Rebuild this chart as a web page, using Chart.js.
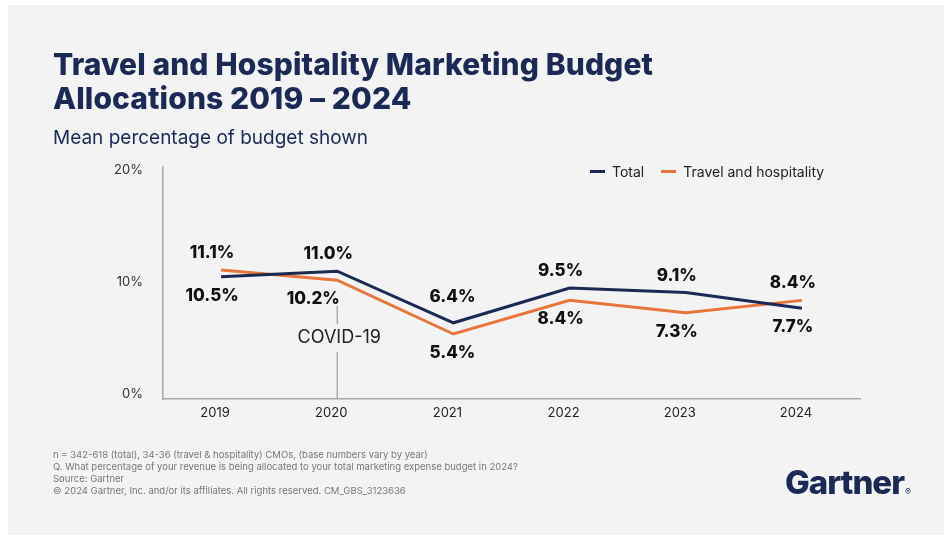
<!DOCTYPE html>
<html>
<head>
<meta charset="utf-8">
<title>Travel and Hospitality Marketing Budget Allocations 2019 – 2024</title>
<script src="https://cdn.jsdelivr.net/npm/chart.js@4"></script>
<style>
  html, body { margin: 0; padding: 0; background: #fff; }
  body { width: 944px; height: 536px; position: relative; overflow: hidden; font-family: Inter, "Noto Sans", sans-serif; }
  .card { position: absolute; left: 8px; top: 5px; width: 936px; height: 530px; background: #f3f3f3; }
  #chart { position: absolute; left: 0; top: 0; }
  .title { position: absolute; left: 53px; top: 47px; margin: 0; font-size: 30px; line-height: 34px; font-weight: 800; color: #1b2a55; letter-spacing: 0.1px; }
  .subtitle { position: absolute; left: 53px; top: 126px; margin: 0; font-size: 19px; color: #1b2a55; font-weight: 400; }
  .legend { position: absolute; left: 590px; top: 163px; font-size: 14px; color: #222; display: flex; align-items: center; }
  .legend span.sw { display: inline-block; width: 15px; height: 3px; margin-right: 7px; }
  .legend span.item { display: flex; align-items: center; margin-right: 17px; }
  .notes { position: absolute; left: 53px; top: 449px; font-size: 9.5px; line-height: 12px; color: #777; }
  .logo { position: absolute; left: 785px; top: 462px; font-size: 33px; font-weight: 800; color: #1b2a55; letter-spacing: -1px; }
  .logo sup { font-size: 9px; font-weight: 400; letter-spacing: 0; vertical-align: -1px; margin-left: 1px; }
</style>
</head>
<body>
<div class="card"></div>
<canvas id="chart" width="944" height="536"></canvas>
<h1 class="title">Travel and Hospitality Marketing Budget<br>Allocations 2019 – 2024</h1>
<p class="subtitle">Mean percentage of budget shown</p>
<div class="legend">
  <span class="item"><span class="sw" style="background:#1b2a55"></span>Total</span>
  <span class="item"><span class="sw" style="background:#e8763c"></span>Travel and hospitality</span>
</div>
<div class="notes">
  n = 342-618 (total), 34-36 (travel &amp; hospitality) CMOs, (base numbers vary by year)<br>
  Q. What percentage of your revenue is being allocated to your total marketing expense budget in 2024?<br>
  Source: Gartner<br>
  © 2024 Gartner, Inc. and/or its affiliates. All rights reserved. CM_GBS_3123636
</div>
<div class="logo">Gartner<sup>®</sup></div>

<script>
const years = ["2019", "2020", "2021", "2022", "2023", "2024"];
const total = [10.5, 11.0, 6.4, 9.5, 9.1, 7.7];
const travel = [11.1, 10.2, 5.4, 8.4, 7.3, 8.4];
const yTicks = [0, 10, 20];
const covidYear = "2020";

const navy = "#1b2a55";
const orange = "#e8763c";
const axisGray = "#a8a8a8";

// value labels: higher series above its line, lower series below
const valueLabels = {
  id: "valueLabels",
  afterDatasetsDraw(chart) {
    const ctx = chart.ctx;
    const metaA = chart.getDatasetMeta(0);
    const metaB = chart.getDatasetMeta(1);
    ctx.save();
    ctx.font = "800 17px Inter, 'Noto Sans', sans-serif";
    ctx.fillStyle = "#111";
    ctx.textAlign = "center";
    ctx.textBaseline = "middle";
    years.forEach((yr, i) => {
      const a = total[i], b = travel[i];
      const hiSeries = a >= b ? total : travel;
      const hiMeta = a >= b ? metaA : metaB;
      const loMeta = a >= b ? metaB : metaA;
      const hiVal = Math.max(a, b), loVal = Math.min(a, b);
      const hp = hiMeta.data[i], lp = loMeta.data[i];
      // a dip in the upper line: lift the label clear of both slopes
      const valley = i > 0 && i < years.length - 1 &&
        hiSeries[i - 1] > hiVal && hiSeries[i + 1] > hiVal;
      ctx.fillText(hiVal.toFixed(1) + "%", hp.x - (valley ? 1 : 9), hp.y - (valley ? 26 : 17));
      // keep the lower label clear of the COVID marker line
      const shift = yr === covidYear ? -24 : (valley ? -1 : -9);
      ctx.fillText(loVal.toFixed(1) + "%", lp.x + shift, lp.y + 19);
    });
    ctx.restore();
  }
};

// vertical COVID-19 marker at 2020
const covidMarker = {
  id: "covidMarker",
  beforeDatasetsDraw(chart) {
    const ctx = chart.ctx;
    const x = chart.scales.x.getPixelForValue(years.indexOf(covidYear));
    const bottom = chart.chartArea.bottom;
    const textY = 338;
    ctx.save();
    ctx.strokeStyle = "#9a9a9a";
    ctx.lineWidth = 1.2;
    ctx.beginPath();
    ctx.moveTo(x, 306);
    ctx.lineTo(x, textY - 14);
    ctx.moveTo(x, textY + 14);
    ctx.lineTo(x, bottom);
    ctx.stroke();
    ctx.font = "18px Inter, 'Noto Sans', sans-serif";
    ctx.fillStyle = "#222";
    ctx.textAlign = "center";
    ctx.textBaseline = "middle";
    ctx.fillText("COVID-19", x + 2, textY);
    ctx.restore();
  }
};

new Chart(document.getElementById("chart"), {
  type: "line",
  data: {
    labels: years,
    datasets: [
      { label: "Total", data: total, borderColor: navy, borderWidth: 3, pointRadius: 0, tension: 0 },
      { label: "Travel and hospitality", data: travel, borderColor: orange, borderWidth: 3, pointRadius: 0, tension: 0 },
    ],
  },
  options: {
    responsive: false,
    animation: false,
    layout: { padding: { left: 100, right: 84, top: 167, bottom: 107 } },
    plugins: { legend: { display: false }, tooltip: { enabled: false } },
    scales: {
      x: {
        offset: true,
        grid: { display: false, drawTicks: false },
        border: { color: axisGray, width: 1.5 },
        ticks: { color: "#222", font: { size: 13, family: "Inter" }, padding: 6, labelOffset: -6 },
        afterFit(s) { s.height = 30; },
      },
      y: {
        min: -0.4,
        max: 20.3,
        afterBuildTicks(s) { s.ticks = yTicks.map(v => ({ value: v })); },
        grid: { display: false, drawTicks: false },
        border: { color: axisGray, width: 1.5 },
        ticks: { color: "#333", font: { size: 13, family: "Inter" }, padding: 20, callback: v => v + "%" },
        afterFit(s) { s.width = 63; },
      },
    },
  },
  plugins: [covidMarker, valueLabels],
});
</script>
</body>
</html>
